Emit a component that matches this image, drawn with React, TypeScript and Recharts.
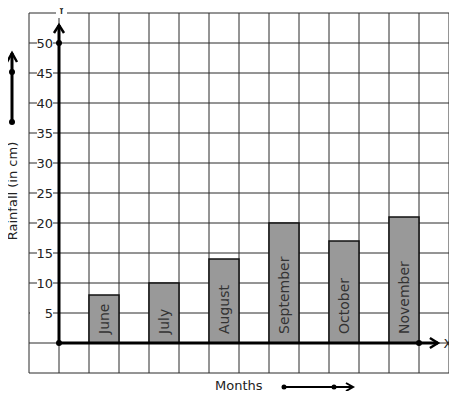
import {
    BarChart,
    Bar,
    XAxis,
    YAxis,
    CartesianGrid,
    ReferenceLine,
    ReferenceDot,
    LabelList
} from "recharts";

const months = ["June", "July", "August", "September", "October", "November"];
const rainfall = [8, 10, 14, 20, 17, 21];

const yTicks = [-5, 0, 5, 10, 15, 20, 25, 30, 35, 40, 45, 50, 55];
const yLabels = [5, 10, 15, 20, 25, 30, 35, 40, 45, 50];
const xTicks = [-1, 0, 1, 2, 3, 4, 5, 6, 7, 8, 9, 10, 11, 12, 13];

// each month sits in every second grid cell, starting from the second cell
const data = months.map((m, i) => ({ month: m, rainfall: rainfall[i], pos: 2 * i + 1.5 }));

const FONT = "DejaVu Sans";
const INK = "#222";

const EmptyTick = () => <g />;

const YTick = (props: any) => {
    const x = Number(props.x), y = Number(props.y);
    const v = Number(props.payload?.value);
    if (!yLabels.includes(v)) return <g />;
    const label = String(v);
    const right = x + 24;
    const left = label.length > 1 ? x + 8 : x + 1;
    return (
        <g>
            <rect x={left} y={y - 7} width={right - left} height={14} fill="#fff" />
            <text x={right} y={y} textAnchor="end" dominantBaseline="central" fontSize={13} fill={INK} fontFamily={FONT}>
                {label}
            </text>
        </g>
    );
};

const MonthLabel = (props: any) => {
    const x = Number(props.x), y = Number(props.y);
    const w = Number(props.width), h = Number(props.height);
    const cx = x + w / 2;
    const by = y + h - 9;
    return (
        <text
            x={cx}
            y={by}
            transform={`rotate(-90 ${cx} ${by})`}
            textAnchor="start"
            dominantBaseline="central"
            fontSize={14}
            fill="#333"
            fontFamily={FONT}
        >
            {props.value}
        </text>
    );
};

const YAxisArrow = (props: any) => {
    const { x1, y1, x2, y2 } = props;
    return (
        <g>
            <line x1={x1} y1={y1} x2={x2} y2={y2} stroke="#000" strokeWidth={3} />
            <polyline points={`${x2 - 5},${y2 + 8} ${x2},${y2} ${x2 + 5},${y2 + 8}`} fill="none" stroke="#000" strokeWidth={2.5} />
        </g>
    );
};

const XAxisArrow = (props: any) => {
    const { x1, y1, x2, y2 } = props;
    return (
        <g>
            <line x1={x1} y1={y1} x2={x2} y2={y2} stroke="#000" strokeWidth={3} />
            <polyline points={`${x2 - 8},${y2 - 5} ${x2},${y2} ${x2 - 8},${y2 + 5}`} fill="none" stroke="#000" strokeWidth={2.5} />
        </g>
    );
};

export default function App() {
    return (
        <div style={{ width: 457, height: 399, margin: -8, fontFamily: FONT }}>
            <BarChart width={457} height={399} data={data} margin={{ top: 13, right: 8, bottom: 26, left: 0 }}>
                <CartesianGrid stroke="#2a2a2a" strokeWidth={1} />
                <XAxis
                    dataKey="pos"
                    type="number"
                    domain={[-1, 13]}
                    ticks={xTicks}
                    interval={0}
                    height={0}
                    tick={<EmptyTick />}
                    axisLine={false}
                    tickLine={false}
                    allowDataOverflow
                />
                <YAxis
                    type="number"
                    domain={[-5, 55]}
                    ticks={yTicks}
                    width={29}
                    tickSize={0}
                    tickMargin={0}
                    axisLine={false}
                    tickLine={false}
                    tick={<YTick />}
                    interval={0}
                    allowDataOverflow
                />
                <Bar dataKey="rainfall" barSize={30} fill="#999999" stroke="#111" strokeWidth={1.5} isAnimationActive={false}>
                    <LabelList dataKey="month" content={<MonthLabel />} />
                </Bar>
                <ReferenceLine segment={[{ x: 0, y: 0 }, { x: 0, y: 53 }]} shape={<YAxisArrow />} />
                <ReferenceLine segment={[{ x: 0, y: 0 }, { x: 12.63, y: 0 }]} shape={<XAxisArrow />} />
                <ReferenceDot x={0} y={50} r={3} fill="#000" stroke="none" />
                <ReferenceDot x={0} y={0} r={3} fill="#000" stroke="none" />
                <ReferenceDot x={12} y={0} r={3} fill="#000" stroke="none" />
                {/* axis letters sit outside the plot area */}
                <g>
                    <rect x={56} y={7} width={11} height={11} fill="#fff" />
                    <text x={61.5} y={14} textAnchor="middle" fontSize={13} fill={INK} fontFamily={FONT}>Y</text>
                    <text x={448} y={348} textAnchor="middle" fontSize={13} fill={INK} fontFamily={FONT}>X</text>
                </g>
                {/* direction markers beside the axis titles */}
                <g>
                    <line x1={12} y1={122} x2={12} y2={53} stroke="#000" strokeWidth={3} />
                    <polyline points="7,62 12,53 17,62" fill="none" stroke="#000" strokeWidth={2.5} />
                    <circle cx={12} cy={72} r={3} fill="#000" />
                    <circle cx={12} cy={122} r={3} fill="#000" />
                    <text
                        x={12}
                        y={191}
                        transform="rotate(-90 12 191)"
                        textAnchor="middle"
                        dominantBaseline="central"
                        fontSize={13}
                        fill={INK}
                        fontFamily={FONT}
                    >
                        Rainfall (in cm)
                    </text>
                </g>
                <g>
                    <text x={215} y={385} dominantBaseline="central" fontSize={13} fill={INK} fontFamily={FONT}>Months</text>
                    <line x1={284} y1={387} x2={353} y2={387} stroke="#000" strokeWidth={2} />
                    <polyline points="346,383 353,387 346,391" fill="none" stroke="#000" strokeWidth={2} />
                    <circle cx={284} cy={387} r={2.5} fill="#000" />
                    <circle cx={334} cy={387} r={2.5} fill="#000" />
                </g>
            </BarChart>
        </div>
    );
}
